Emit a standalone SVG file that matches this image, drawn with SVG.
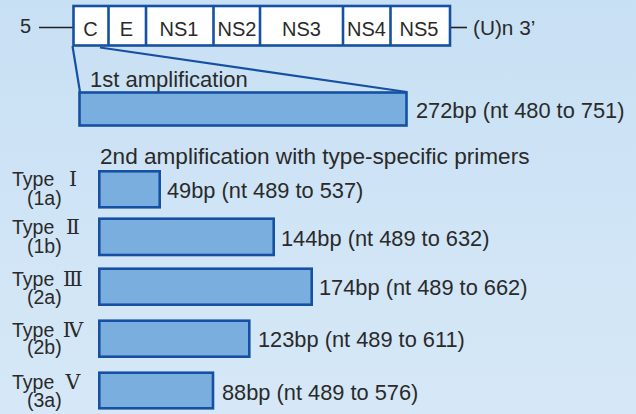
<svg xmlns="http://www.w3.org/2000/svg" width="636" height="414" viewBox="0 0 636 414">
<defs>
<linearGradient id="bg" x1="0" y1="0" x2="0" y2="1">
<stop offset="0" stop-color="#c8e0f4"/>
<stop offset="1" stop-color="#d6e8f7"/>
</linearGradient>
<style>
text{font-family:"Liberation Sans","Noto Sans CJK JP",Arial,sans-serif;fill:#2a2a2a}
.cell{fill:#ffffff;stroke:#1650a2;stroke-width:2.6}
.div{stroke:#1650a2;stroke-width:2.6}
.bar{fill:#7aaedf;stroke:#1650a2;stroke-width:2.6}
.con{stroke:#1650a2;stroke-width:2.2;fill:none}
.blk{stroke:#222;stroke-width:1.6}
.g{font-size:20px;text-anchor:middle}
.lab{font-size:21.8px}
.t{font-size:19.5px}
.rn{font-family:"DejaVu Serif","Liberation Serif","Noto Sans CJK JP",serif;font-size:20.5px;text-anchor:middle}
</style>
</defs>
<rect width="636" height="414" fill="url(#bg)"/>

<g id="genome">
<text x="20" y="33" style="font-size:20px">5</text>
<line class="blk" x1="39" y1="27.5" x2="73" y2="27.5"/>
<rect class="cell" x="73.5" y="6" width="376.5" height="39.5"/>
<line class="div" x1="108.5" y1="6" x2="108.5" y2="45.5"/>
<line class="div" x1="146" y1="6" x2="146" y2="45.5"/>
<line class="div" x1="213.5" y1="6" x2="213.5" y2="45.5"/>
<line class="div" x1="260" y1="6" x2="260" y2="45.5"/>
<line class="div" x1="343" y1="6" x2="343" y2="45.5"/>
<line class="div" x1="390.5" y1="6" x2="390.5" y2="45.5"/>
<text class="g" x="90.5" y="36">C</text>
<text class="g" x="126.5" y="36">E</text>
<text class="g" x="179" y="36">NS1</text>
<text class="g" x="237" y="36">NS2</text>
<text class="g" x="301.5" y="36">NS3</text>
<text class="g" x="366.5" y="36">NS4</text>
<text class="g" x="419" y="36">NS5</text>
<line class="blk" x1="451" y1="27.5" x2="467" y2="27.5"/>
<text x="473" y="35" style="font-size:20.8px">(U)n 3’</text>
</g>

<g id="connectors">
<line class="con" x1="72.5" y1="46" x2="80" y2="92"/>
<line class="con" x1="100" y1="47.5" x2="407" y2="92"/>
</g>

<g id="amp1">
<text x="90" y="87" style="font-size:22px">1st amplification</text>
<rect class="bar" x="79.5" y="92.5" width="327" height="33"/>
<text x="416" y="118" class="lab">272bp (nt 480 to 751)</text>
</g>

<g id="amp2">
<text x="100" y="164" style="font-size:22.6px">2nd amplification with type-specific primers</text>
</g>

<g id="type1">
<text x="12" y="186" class="t">Type</text>
<text x="73" y="186" class="rn">Ⅰ</text>
<text x="27" y="205" class="t">(1a)</text>
<rect class="bar" x="99.3" y="171.3" width="60.4" height="36"/>
<text x="167" y="198" class="lab">49bp (nt 489 to 537)</text>
</g>

<g id="type2">
<text x="12" y="234" class="t">Type</text>
<text x="73" y="234" class="rn">Ⅱ</text>
<text x="27" y="253" class="t">(1b)</text>
<rect class="bar" x="99.3" y="218.7" width="174.4" height="36.3"/>
<text x="281" y="246" class="lab">144bp (nt 489 to 632)</text>
</g>

<g id="type3">
<text x="12" y="286" class="t">Type</text>
<text x="73" y="286" class="rn">Ⅲ</text>
<text x="27" y="304" class="t">(2a)</text>
<rect class="bar" x="99.3" y="268.7" width="212.4" height="36"/>
<text x="319" y="295" class="lab">174bp (nt 489 to 662)</text>
</g>

<g id="type4">
<text x="12" y="337" class="t">Type</text>
<text x="73" y="337" class="rn">Ⅳ</text>
<text x="27" y="354" class="t">(2b)</text>
<rect class="bar" x="99.3" y="320.7" width="150" height="36"/>
<text x="258" y="347" class="lab">123bp (nt 489 to 611)</text>
</g>

<g id="type5">
<text x="12" y="389" class="t">Type</text>
<text x="73" y="389" class="rn">Ⅴ</text>
<text x="27" y="407" class="t">(3a)</text>
<rect class="bar" x="99.3" y="372.7" width="113.7" height="35.6"/>
<text x="222" y="400" class="lab">88bp (nt 489 to 576)</text>
</g>
</svg>
